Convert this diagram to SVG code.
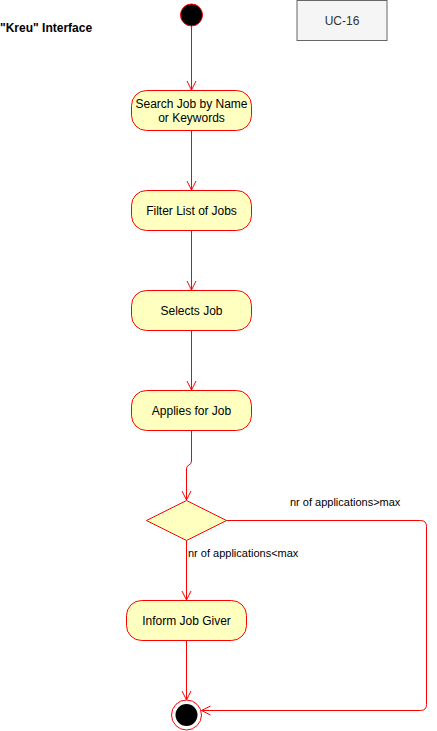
<svg xmlns="http://www.w3.org/2000/svg" width="437" height="731" viewBox="0 0 437 731">
<defs>
<marker id="open" markerWidth="12" markerHeight="12" viewBox="-10 -5 12 10" refX="0" refY="0" orient="auto" markerUnits="userSpaceOnUse">
<path d="M-9,-4.5 L0,0 L-9,4.5" fill="none" stroke="#ff0000" stroke-width="1"/>
</marker>
<style>
.act{fill:#ffffc0;stroke:#ff0000;stroke-width:1}
.lbl{font-family:"Liberation Sans",Arial,sans-serif;font-size:12px;fill:#000;text-anchor:middle}
.edge{fill:none;stroke:#ff0000;stroke-width:1;marker-end:url(#open)}
.elbl{font-family:"Liberation Sans",Arial,sans-serif;font-size:11px;fill:#000}
</style>
</defs>
<rect width="437" height="731" fill="#ffffff"/>
<g id="title"><text x="0" y="31.5" font-family="'Liberation Sans',Arial,sans-serif" font-size="12" font-weight="bold" fill="#000">"Kreu" Interface</text></g>
<g id="uc16"><rect x="297" y="0.5" width="90" height="40" fill="#f5f5f5" stroke="#666666"/><text x="342" y="24.5" class="lbl" style="fill:#333333">UC-16</text></g>
<g id="start"><circle cx="191.5" cy="15" r="11" fill="#000" stroke="#ff0000"/></g>
<g id="search"><rect class="act" x="131.5" y="90.5" width="120" height="40" rx="15" ry="15"/><text class="lbl" x="191.5" y="108">Search Job by Name</text><text class="lbl" x="191.5" y="122">or Keywords</text></g>
<g id="filter"><rect class="act" x="131.5" y="190.5" width="120" height="40" rx="15" ry="15"/><text class="lbl" x="191.5" y="215">Filter List of Jobs</text></g>
<g id="selects"><rect class="act" x="131.5" y="290.5" width="120" height="40" rx="15" ry="15"/><text class="lbl" x="191.5" y="315">Selects Job</text></g>
<g id="applies"><rect class="act" x="131.5" y="390.5" width="120" height="40" rx="15" ry="15"/><text class="lbl" x="191.5" y="415">Applies for Job</text></g>
<g id="decision"><path class="act" d="M146.5,520.5 L186.5,500.5 L226.5,520.5 L186.5,540.5 Z"/></g>
<g id="inform"><rect class="act" x="126.5" y="600.5" width="120" height="40" rx="15" ry="15"/><text class="lbl" x="186.5" y="625">Inform Job Giver</text></g>
<g id="end"><circle cx="186.5" cy="715" r="15" fill="#ffffff" stroke="#ff0000"/><circle cx="186.5" cy="715" r="11" fill="#000"/></g>
<g id="connectors">
<path class="edge" d="M191.5,26 L191.5,90"/>
<path class="edge" d="M191.5,130.5 L191.5,190"/>
<path class="edge" d="M191.5,230.5 L191.5,290"/>
<path class="edge" d="M191.5,330.5 L191.5,390"/>
<path class="edge" d="M191.5,430.5 L191.5,461 Q191.5,464 189,465 Q186.5,466 186.5,469 L186.5,500"/>
<path class="edge" d="M186.5,540.5 L186.5,600"/>
<path class="edge" d="M186.5,640.5 L186.5,700"/>
<path class="edge" d="M226.5,520.5 L420.5,520.5 Q426.5,520.5 426.5,526.5 L426.5,704.5 Q426.5,710.5 420.5,710.5 L201.5,710.5"/>
<text class="elbl" x="290" y="506">nr of applications&gt;max</text>
<text class="elbl" x="188" y="557">nr of applications&lt;max</text>
</g>
</svg>
